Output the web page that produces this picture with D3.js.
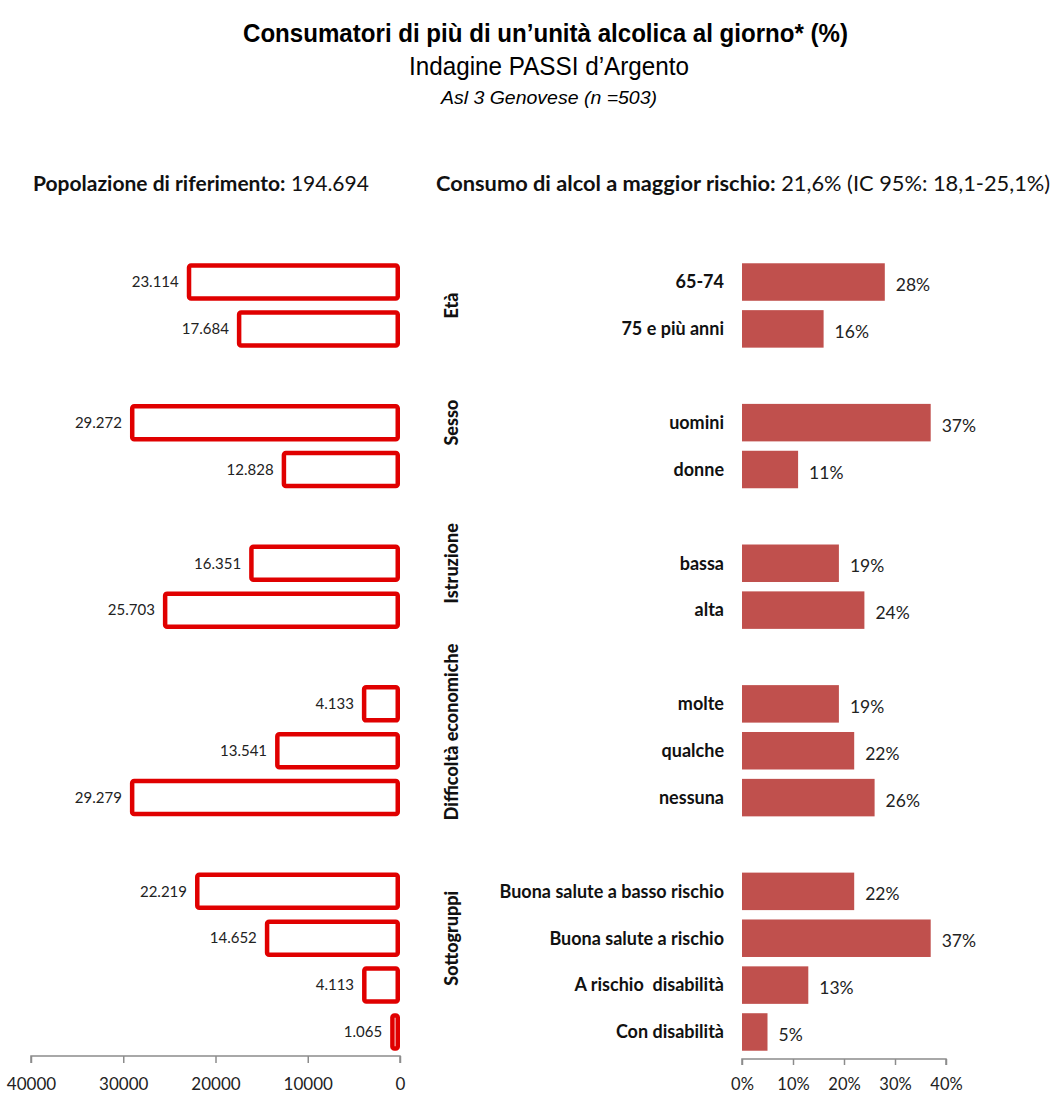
<!DOCTYPE html>
<html><head><meta charset="utf-8">
<script src="https://cdn.jsdelivr.net/npm/d3@7"></script>
<style>
body{margin:0;background:#fff;}
svg{display:block;}
</style></head>
<body>
<svg id="chart" width="1056" height="1097"></svg>
<script>
// ---- data ----
const groups = ["Età", "Sesso", "Istruzione", "Difficoltà economiche", "Sottogruppi"];
const categories = ["65-74", "75 e più anni", "uomini", "donne", "bassa", "alta",
  "molte", "qualche", "nessuna",
  "Buona salute a basso rischio", "Buona salute a rischio", "A rischio  disabilità", "Con disabilità"];
const groupIndex = [0, 0, 1, 1, 2, 2, 3, 3, 3, 4, 4, 4, 4];
const population = [23114, 17684, 29272, 12828, 16351, 25703, 4133, 13541, 29279, 22219, 14652, 4113, 1065];
const riskPct = [28, 16, 37, 11, 19, 24, 19, 22, 26, 22, 37, 13, 5];
const popTicks = [40000, 30000, 20000, 10000, 0];
const pctTicks = [0, 10, 20, 30, 40];
const titleText = "Consumatori di più di un’unità alcolica al giorno* (%)";
const subtitleText = "Indagine PASSI d’Argento";
const subsubText = "Asl 3 Genovese (n =503)";
const leftHeaderBold = "Popolazione di riferimento:";
const leftHeaderValue = " 194.694";
const rightHeaderBold = "Consumo di alcol a maggior rischio:";
const rightHeaderValue = " 21,6% (IC 95%: 18,1-25,1%)";
// label anchor within group (slot offset from first member)
const groupLabelOffset = [0.5, 0, 0, 0.6, 1];

// ---- layout ----
const svg = d3.select("#chart");
const calibri = "Lato, 'Open Sans', sans-serif";
const narrow = "'Liberation Sans', Arial, sans-serif";
const itFmt = d3.formatLocale({decimal: ",", thousands: ".", grouping: [3], currency: ["€", ""]}).format(",");

// slots with separators between groups
const slots = [];
categories.forEach((c, i) => {
  if (i > 0 && groupIndex[i] !== groupIndex[i - 1]) slots.push("sep" + i);
  slots.push("c" + i);
});
const y = d3.scaleBand().domain(slots).range([253.9, 1060.1]).padding(0.2);

const xL = d3.scaleLinear().domain([0, 40000]).range([400, 31]);
const xR = d3.scaleLinear().domain([0, 40]).range([742, 946]);

// titles (condensed look via textLength)
svg.append("text").attr("x", 243).attr("y", 42)
  .attr("textLength", 605).attr("lengthAdjust", "spacingAndGlyphs")
  .style("font-family", narrow).style("font-weight", "bold").style("font-size", "26px")
  .text(titleText);
svg.append("text").attr("x", 409).attr("y", 75)
  .attr("textLength", 280).attr("lengthAdjust", "spacingAndGlyphs")
  .style("font-family", narrow).style("font-size", "25px").text(subtitleText);
svg.append("text").attr("x", 441).attr("y", 104)
  .attr("textLength", 216).attr("lengthAdjust", "spacingAndGlyphs")
  .style("font-family", narrow).style("font-style", "italic").style("font-size", "19px").text(subsubText);

// headers
const h1 = svg.append("text").attr("x", 33).attr("y", 191)
  .style("font-family", calibri).style("font-size", "21px").attr("fill", "#111");
h1.append("tspan").style("font-weight", "bold").text(leftHeaderBold);
h1.append("tspan").text(leftHeaderValue);
const h2 = svg.append("text").attr("x", 436).attr("y", 191)
  .style("font-family", calibri).style("font-size", "21.8px").attr("fill", "#111");
h2.append("tspan").style("font-weight", "bold").text(rightHeaderBold);
h2.append("tspan").text(rightHeaderValue);

// left bars (hollow)
const sw = 4.5;
svg.append("g").selectAll("rect").data(population).join("rect")
  .attr("x", d => xL(d) + sw / 2)
  .attr("y", (d, i) => y("c" + i) + sw / 2)
  .attr("width", d => Math.max(0, xL(0) - xL(d) - sw))
  .attr("height", y.bandwidth() - sw)
  .attr("rx", 2)
  .attr("fill", "none").attr("stroke", "#e00000").attr("stroke-width", sw);

svg.append("g").selectAll("text").data(population).join("text")
  .attr("x", d => xL(d) - 8)
  .attr("y", (d, i) => y("c" + i) + y.bandwidth() / 2)
  .attr("dy", "0.35em").attr("text-anchor", "end")
  .style("font-family", calibri).style("font-size", "15px").attr("fill", "#222")
  .text(d => itFmt(d));

// left axis
const axL = svg.append("g").attr("transform", "translate(0,1056)")
  .call(d3.axisBottom(xL).tickValues(popTicks).tickFormat(d3.format("d")).tickSize(7).tickPadding(15));
axL.select(".domain").attr("stroke", "#8c8c8c").attr("stroke-width", 1.5).attr("d", `M${xL(40000)},7V0H${xL(0)}V7`);
axL.selectAll(".tick line").attr("stroke", "#8c8c8c").attr("stroke-width", 1.5);
axL.selectAll(".tick text").style("font-family", calibri).style("font-size", "17px").attr("fill", "#222");

// right bars
svg.append("g").selectAll("rect").data(riskPct).join("rect")
  .attr("x", xR(0))
  .attr("y", (d, i) => y("c" + i))
  .attr("width", d => xR(d) - xR(0))
  .attr("height", y.bandwidth())
  .attr("fill", "#c0504d");

svg.append("g").selectAll("text").data(riskPct).join("text")
  .attr("x", d => xR(d) + 11)
  .attr("y", (d, i) => y("c" + i) + y.bandwidth() / 2 + 3)
  .attr("dy", "0.35em")
  .style("font-family", calibri).style("font-size", "17.5px").attr("fill", "#222")
  .text(d => d + "%");

// category labels
svg.append("g").selectAll("text").data(categories).join("text")
  .attr("x", 724)
  .attr("y", (d, i) => y("c" + i) + y.bandwidth() / 2)
  .attr("dy", "0.35em").attr("text-anchor", "end")
  .style("font-family", calibri).style("font-weight", "bold").style("font-size", "18px")
  .style("white-space", "pre").attr("fill", "#111")
  .text(d => d);

// group labels
groups.forEach((g, gi) => {
  const first = groupIndex.indexOf(gi);
  const cy = y("c" + first) + y.bandwidth() / 2 + groupLabelOffset[gi] * y.step();
  svg.append("text")
    .attr("transform", `translate(452,${cy}) rotate(-90)`)
    .attr("text-anchor", "middle").attr("dy", "0.35em")
    .style("font-family", calibri).style("font-weight", "900").style("font-size", "18px")
    .attr("fill", "#111").text(g);
});

// right axis
const axR = svg.append("g").attr("transform", "translate(0,1059)")
  .call(d3.axisBottom(xR).tickValues(pctTicks).tickFormat(d => d + "%").tickSize(6).tickPadding(13));
axR.select(".domain").attr("stroke", "#8c8c8c").attr("stroke-width", 1.5).attr("d", `M${xR(0)},6V0H${xR(40)}V6`);
axR.selectAll(".tick line").attr("stroke", "#8c8c8c").attr("stroke-width", 1.5);
axR.selectAll(".tick text").style("font-family", calibri).style("font-size", "16.5px").attr("fill", "#222");
</script>
</body></html>
